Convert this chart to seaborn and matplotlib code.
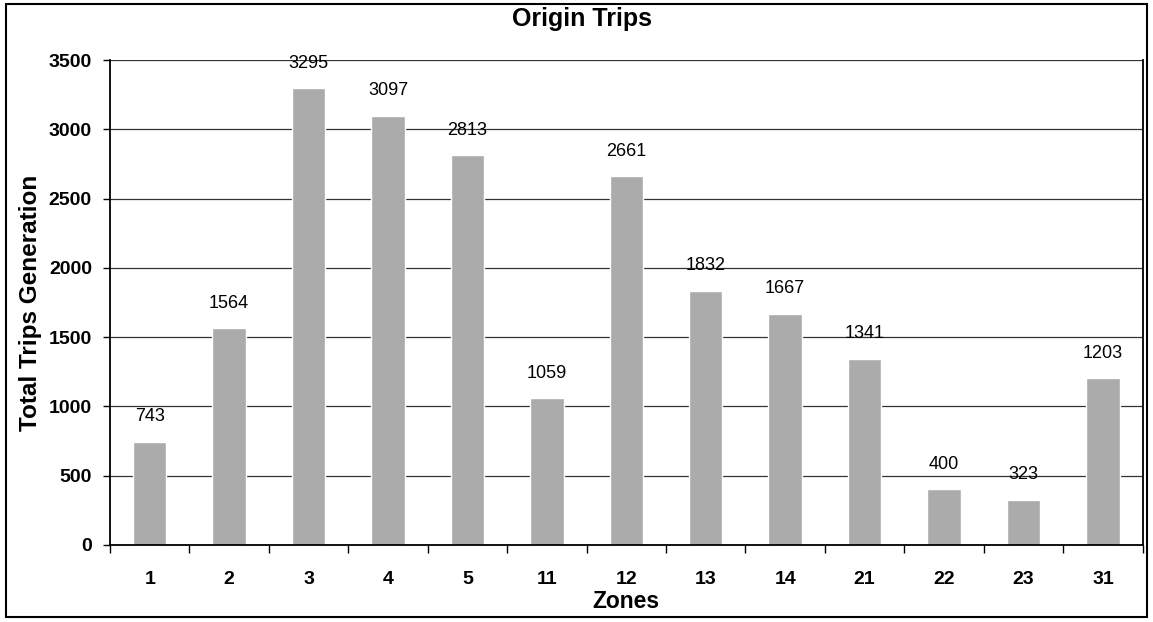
import numpy as np
import pandas as pd
import matplotlib
matplotlib.use("Agg")
import matplotlib.pyplot as plt
from matplotlib.ticker import FixedLocator
import seaborn as sns

# data
zones = ["1", "2", "3", "4", "5", "11", "12", "13", "14", "21", "22", "23", "31"]
trips = [743, 1564, 3295, 3097, 2813, 1059, 2661, 1832, 1667, 1341, 400, 323, 1203]

df = pd.DataFrame({"Zones": zones, "Trips": trips})

sns.set_theme(style="white")
plt.rcParams["font.family"] = ["Liberation Sans", "DejaVu Sans"]
plt.rcParams["text.color"] = "black"
plt.rcParams["axes.labelcolor"] = "black"
plt.rcParams["xtick.color"] = "black"
plt.rcParams["ytick.color"] = "black"

fig = plt.figure(figsize=(11.53, 6.22), dpi=100)
ax = fig.add_axes([0.0954, 0.124, 0.8956, 0.7795])

sns.barplot(data=df, x="Zones", y="Trips", color="#ababab", saturation=1,
            width=0.42, ax=ax)

# value labels above the bars
for patch, val in zip(ax.patches, trips):
    ax.annotate(str(val), (patch.get_x() + patch.get_width() / 2, patch.get_height()),
                xytext=(0, 12), textcoords="offset points", ha="center", va="bottom",
                fontsize=13, color="black")

ax.set_ylim(0, 3500)
ax.set_xlim(-0.5, len(zones) - 0.5)
ax.set_yticks(np.arange(0, 3501, 500))
ax.yaxis.grid(True, color="#333333", linewidth=0.9)
ax.set_axisbelow(True)

# Excel-style tick marks between categories
ax.xaxis.set_minor_locator(FixedLocator(np.arange(-0.5, len(zones), 1)))
ax.tick_params(axis="x", which="minor", length=6, width=1, color="black", direction="out", bottom=True)
ax.tick_params(axis="x", which="major", length=0, pad=19, labelsize=14)
ax.tick_params(axis="y", which="major", length=5, width=1, color="black", direction="out", left=True, labelsize=14, pad=8)
for lab in ax.get_xticklabels() + ax.get_yticklabels():
    lab.set_fontweight("bold")

for side in ["left", "bottom", "right"]:
    ax.spines[side].set_visible(True)
    ax.spines[side].set_color("black")
    ax.spines[side].set_linewidth(1.3)
ax.spines["top"].set_visible(False)

fig.text(0.505, 0.969, "Origin Trips", fontsize=18, fontweight="bold", ha="center", va="center")
ax.set_xlabel("Zones", fontsize=16.5, fontweight="bold", labelpad=1)
ax.set_ylabel("Total Trips Generation", fontsize=17.5, fontweight="bold", labelpad=4.5)

# outer chart border
fig.patches.append(plt.Rectangle((0.005, 0.008), 0.99, 0.985, transform=fig.transFigure,
                                 fill=False, edgecolor="black", linewidth=1.5))

fig.savefig("out.png", dpi=100)
